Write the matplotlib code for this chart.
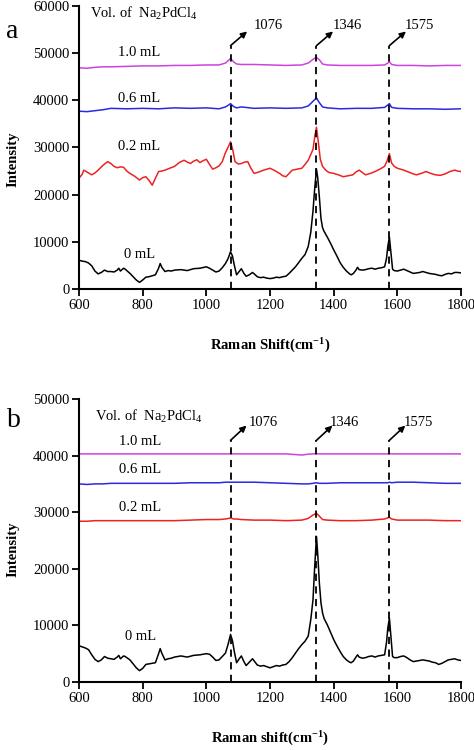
import numpy as np
import matplotlib
matplotlib.use("Agg")
import matplotlib.pyplot as plt

plt.rcParams['font.family'] = ['Liberation Serif', 'DejaVu Serif']
plt.rcParams['mathtext.fontset'] = 'custom'
plt.rcParams['mathtext.rm'] = 'Liberation Serif'
plt.rcParams['mathtext.bf'] = 'Liberation Serif:bold'
plt.rcParams['mathtext.it'] = 'Liberation Serif:italic'

### data
# 0 mL spectra, dense grid
x_black = [600, 610, 620, 630, 640, 650, 660, 670, 680, 690, 700, 710, 720, 725, 730, 740, 745, 750,
           760, 770, 780, 790, 800, 810, 820, 830, 840, 850, 855, 860, 870, 880, 890, 900, 920, 940,
           960, 980, 1000, 1010, 1020, 1030, 1040, 1050, 1060, 1068, 1076, 1082, 1088, 1095, 1102,
           1110, 1118, 1125, 1135, 1145, 1152, 1160, 1170, 1180, 1190, 1200, 1210, 1220, 1230, 1240,
           1250, 1260, 1270, 1280, 1290, 1300, 1310, 1320, 1328, 1335, 1340, 1346, 1350, 1355, 1360,
           1365, 1370, 1380, 1390, 1400, 1410, 1420, 1430, 1440, 1450, 1455, 1462, 1470, 1475, 1480,
           1490, 1500, 1510, 1520, 1530, 1540, 1550, 1560, 1566, 1570, 1575, 1580, 1585, 1590, 1600,
           1610, 1620, 1630, 1640, 1650, 1660, 1670, 1680, 1690, 1700, 1710, 1720, 1730, 1740, 1750,
           1760, 1770, 1780, 1790, 1800]
a_0mL = [6100, 5900, 5800, 5500, 4900, 3800, 3200, 3500, 4000, 3700, 3700, 3600, 4000, 4400, 3800, 4400, 4200, 3900,
         3300, 2600, 1900, 1400, 1900, 2500, 2600, 2800, 3000, 4400, 5400, 4600, 3700, 3900, 3800, 4000, 4100, 3900,
         4300, 4400, 4700, 4400, 4000, 3600, 3800, 4500, 5400, 6400, 7900, 7000, 5000, 3000, 3600,
         4300, 3300, 2700, 3000, 3500, 3100, 2600, 2400, 2500, 2300, 2200, 2300, 2500, 2400, 2600,
         2700, 3300, 4000, 4700, 5600, 6500, 7300, 9000, 12000, 16500, 21000, 25400, 23500, 19500, 15000,
         13000, 12200, 11000, 9700, 8300, 7000, 5600, 4600, 3800, 3200, 3000, 3300, 4000, 4600, 4100,
         4000, 4100, 4300, 4400, 4200, 4400, 4500, 4700, 6500, 9000, 11000, 7500, 4200, 3900, 3800,
         4000, 4200, 3900, 3600, 3300, 3400, 3500, 3700, 3500, 3300, 3200, 3100, 2900, 2800, 3100,
         3300, 3200, 3500, 3500, 3400]
b_0mL = [6400, 6200, 6000, 5700, 4800, 4000, 3600, 3900, 4500, 4200, 4100, 4000, 4400, 4700, 4100, 4600, 4500, 4300,
         3900, 3200, 2500, 2000, 2400, 3100, 3200, 3300, 3400, 5000, 5900, 5100, 3900, 4100, 4200, 4400, 4600, 4400,
         4700, 4800, 5000, 4900, 4400, 3800, 3900, 4500, 5100, 6600, 8400, 7300, 5300, 3400, 4000,
         4600, 3600, 2900, 3500, 4100, 3600, 3000, 2800, 2900, 2700, 2500, 2700, 2900, 2800, 3000,
         3100, 3600, 4300, 5100, 5900, 6600, 7200, 8100, 11000, 14500, 20000, 25700, 22500, 17500, 14000,
         12200, 11200, 10100, 8800, 7500, 6400, 5400, 4500, 3900, 3500, 3400, 3700, 4400, 4800, 4400,
         4200, 4300, 4500, 4600, 4400, 4600, 4700, 4800, 7000, 9500, 11300, 8000, 4500, 4300, 4300,
         4500, 4600, 4300, 3900, 3600, 3700, 3800, 3900, 3800, 3700, 3500, 3400, 3100, 3300, 3600,
         3900, 4000, 4100, 3900, 3800]

# 0.2 mL, panel a
x_red_a = [600, 610, 615, 625, 640, 650, 660, 675, 690, 700, 710, 720, 730, 740, 750, 760, 775, 790, 800,
           810, 820, 830, 840, 850, 860, 870, 885, 900, 915, 930, 940, 950, 960, 970, 980, 990, 1000,
           1010, 1020, 1030, 1040, 1050, 1060, 1068, 1076, 1083, 1090, 1100, 1110, 1120, 1130, 1140,
           1150, 1165, 1180, 1190, 1200, 1215, 1230, 1240, 1250, 1260, 1270, 1285, 1300, 1310, 1320,
           1328, 1335, 1341, 1346, 1352, 1358, 1365, 1375, 1385, 1400, 1415, 1430, 1445, 1460, 1470,
           1480, 1490, 1500, 1515, 1530, 1545, 1560, 1568, 1575, 1582, 1590, 1600, 1610, 1620, 1635,
           1650, 1660, 1675, 1690, 1705, 1720, 1735, 1750, 1765, 1780, 1790, 1800]
a_02mL = [23500, 24300, 25200, 24800, 24200, 24600, 25200, 26200, 27000, 26600, 26000, 25700, 25900, 25800, 25000, 24500, 23900, 23100, 23600,
          23800, 23000, 22000, 23500, 24900, 25000, 25200, 25600, 26000, 26800, 27300, 26900, 26600, 27100, 27400, 26800, 27200, 27500,
          26400, 25400, 25700, 26100, 27000, 28900, 30000, 31200, 29500, 27000, 26500, 26600, 26900, 27000, 25600,
          24500, 24800, 25200, 25400, 25600, 25100, 24500, 24000, 23800, 24500, 25200, 25400, 25600, 26400, 27300,
          28500, 29600, 32500, 34300, 31000, 27500, 26000, 25200, 24700, 24500, 24200, 23800, 24000, 24200, 24800,
          25200, 24700, 24200, 24500, 24900, 25400, 26000, 27200, 28700, 26700, 26000, 25600, 25400, 25200, 24800,
          24400, 24200, 24500, 24900, 24500, 24200, 24100, 24400, 24900, 25200, 25000, 24900]

# 0.6 / 1.0 mL (panel a) and 0.2 / 0.6 / 1.0 mL (panel b), coarser grid
x_flat = [600, 625, 650, 675, 700, 750, 800, 850, 900, 950, 1000, 1040, 1060, 1070, 1076, 1085, 1095, 1110,
          1150, 1200, 1250, 1300, 1320, 1335, 1346, 1355, 1365, 1380, 1420, 1470, 1520, 1560, 1570, 1575,
          1582, 1600, 1650, 1700, 1750, 1800]
a_06mL = [37700, 37600, 37800, 38000, 38300, 38200, 38300, 38200, 38400, 38300, 38400, 38200, 38600, 39000, 39300, 38700, 38400, 38600,
          38300, 38400, 38300, 38400, 38800, 39800, 40500, 39500, 38600, 38400, 38200, 38300, 38300, 38500, 39000, 39300,
          38500, 38300, 38200, 38200, 38100, 38200]
a_10mL = [46900, 46800, 47000, 47100, 47100, 47200, 47300, 47300, 47400, 47400, 47500, 47500, 47900, 48500, 48900, 48200, 47700, 47600,
          47600, 47500, 47400, 47500, 47900, 48700, 49100, 48600, 47700, 47500, 47400, 47400, 47400, 47500, 47900, 48200,
          47600, 47400, 47400, 47300, 47400, 47400]
b_02mL = [28400, 28400, 28500, 28500, 28500, 28500, 28500, 28500, 28500, 28600, 28700, 28700, 28800, 28900, 29000, 28800, 28800, 28700,
          28600, 28600, 28500, 28600, 28900, 29500, 29800, 29300, 28700, 28600, 28500, 28500, 28600, 28800, 29000, 29100,
          28800, 28600, 28600, 28600, 28500, 28500]
b_06mL = [35000, 34900, 35000, 35000, 35100, 35100, 35100, 35100, 35100, 35200, 35200, 35200, 35300, 35300, 35300, 35300, 35300, 35300,
          35300, 35200, 35100, 35000, 35000, 35100, 35200, 35100, 35100, 35100, 35200, 35200, 35200, 35200, 35200, 35300,
          35200, 35300, 35300, 35200, 35100, 35100]
b_10mL = [40300, 40300, 40300, 40300, 40300, 40300, 40300, 40300, 40300, 40300, 40300, 40300, 40300, 40300, 40350, 40300, 40300, 40300,
          40300, 40300, 40300, 40100, 40250, 40300, 40350, 40300, 40300, 40300, 40300, 40300, 40300, 40300, 40300, 40350,
          40300, 40300, 40300, 40300, 40300, 40300]

peaks = [1076, 1346, 1575]
peak_labels = ['1076', '1346', '1575']
vol_labels = ['1.0 mL', '0.6 mL', '0.2 mL', '0 mL']

c_mag = '#cc44dd'
c_blue = '#2a2ae0'
c_red = '#ee2222'

fig = plt.figure(figsize=(4.74, 7.5), dpi=100)
axa = fig.add_axes([0.1667, 0.6147, 0.8059, 0.3773])
axb = fig.add_axes([0.1667, 0.0907, 0.8059, 0.3773])

def style(ax, ymax, xlabel):
    ax.set_xlim(600, 1800)
    ax.set_ylim(0, ymax)
    ax.set_xticks(np.arange(600, 1801, 200))
    ax.set_yticks(np.arange(0, ymax + 1, 10000))
    for s in ['top', 'right']:
        ax.spines[s].set_visible(False)
    for s in ['left', 'bottom']:
        ax.spines[s].set_linewidth(1.5)
    ax.tick_params(direction='out', length=5, width=1.3, labelsize=10.5, pad=2)
    ax.set_xlabel(xlabel, fontsize=10.5, fontweight='bold')
    ax.set_ylabel('Intensity', fontsize=10.5, fontweight='bold')
    ax.xaxis.set_label_coords(0.5, -0.17)

# panel a
axa.plot(x_flat, a_10mL, color=c_mag, lw=1.1)
axa.plot(x_flat, a_06mL, color=c_blue, lw=1.1)
axa.plot(x_red_a, a_02mL, color=c_red, lw=1.1)
axa.plot(x_black, a_0mL, color='black', lw=1.1)
style(axa, 60000, 'Raman Shift(cm$^{\\mathbf{-1}}$)')
axa.yaxis.set_label_coords(-0.155, 0.46)

lab_x_a = [1148, 1397, 1624]
for p, t, lx in zip(peaks, peak_labels, lab_x_a):
    axa.plot([p, p], [0, 51600], color='black', lw=1.3, ls=(0, (4, 3)))
    axa.annotate('', xy=(p + 52, 54600), xytext=(p, 51600),
                 arrowprops=dict(arrowstyle='-|>', color='black', lw=1.2, mutation_scale=9, shrinkA=0, shrinkB=0))
    axa.text(lx, 55800, t, fontsize=10.5, va='center', ha='left')

axa.text(635, 58400, 'Vol. of  Na$_2$PdCl$_4$', fontsize=10.5, va='center')
for t, y in zip(vol_labels, [50100, 40300, 30300, 7300]):
    axa.text(790, y, t, fontsize=10.5, ha='center', va='center')

# panel b
axb.plot(x_flat, b_10mL, color=c_mag, lw=1.1)
axb.plot(x_flat, b_06mL, color=c_blue, lw=1.1)
axb.plot(x_flat, b_02mL, color=c_red, lw=1.1)
axb.plot(x_black, b_0mL, color='black', lw=1.1)
style(axb, 50000, 'Raman shift(cm$^{\\mathbf{-1}}$)')
axb.yaxis.set_label_coords(-0.155, 0.47)

lab_x_b = [1132, 1388, 1621]
for p, t, lx in zip(peaks, peak_labels, lab_x_b):
    axb.plot([p, p], [0, 42700], color='black', lw=1.3, ls=(0, (4, 3)))
    axb.annotate('', xy=(p + 50, 45300), xytext=(p, 42700),
                 arrowprops=dict(arrowstyle='-|>', color='black', lw=1.2, mutation_scale=9, shrinkA=0, shrinkB=0))
    axb.text(lx, 45900, t, fontsize=10.5, va='center', ha='left')

axb.text(650, 46900, 'Vol. of  Na$_2$PdCl$_4$', fontsize=10.5, va='center')
for t, y in zip(vol_labels, [42500, 37500, 30800, 8000]):
    axb.text(792, y, t, fontsize=10.5, ha='center', va='center')

fig.text(0.012, 0.949, 'a', fontsize=20, va='baseline')
fig.text(0.014, 0.431, 'b', fontsize=20, va='baseline')

fig.savefig('out.png', dpi=100)
